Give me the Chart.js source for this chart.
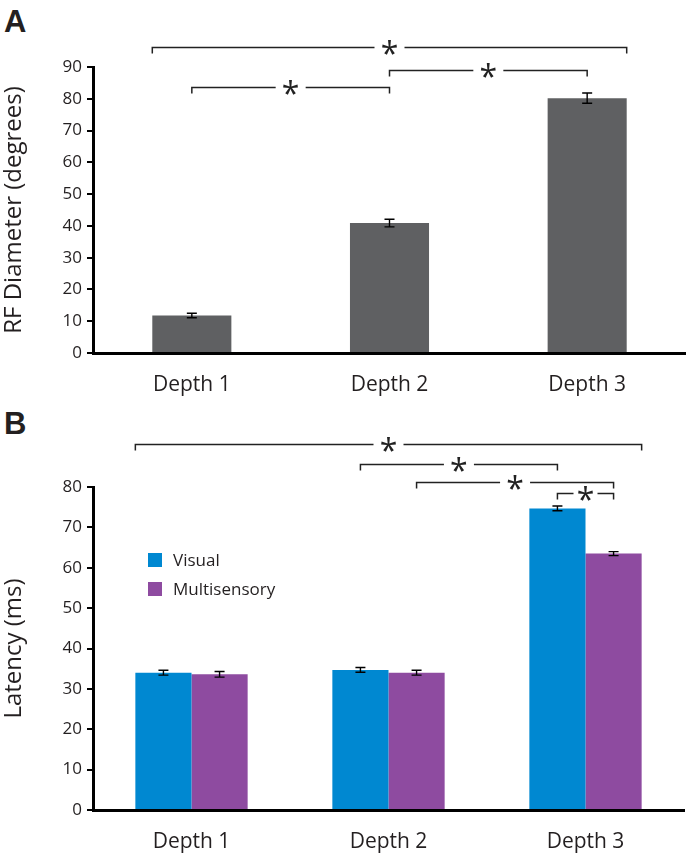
<!DOCTYPE html>
<html>
<head>
<meta charset="utf-8">
<script src="https://cdn.jsdelivr.net/npm/chart.js@4.4.1/dist/chart.umd.min.js"></script>
<style>
  html, body { margin:0; padding:0; background:#fff; }
  #wrap { position:relative; width:686px; height:853px; overflow:hidden; font-family:"Open Sans", sans-serif; color:#231f20; }
  .panel { position:absolute; left:0; width:686px; }
  .letter { position:absolute; font-family:"Liberation Sans", Arial, sans-serif; font-weight:bold; font-size:31px; color:#231f20; line-height:1; }
  .legend { position:absolute; left:148px; font-size:17px; color:#231f20; }
  .legend div { display:flex; align-items:center; height:29px; }
  .legend span.sw { display:inline-block; width:14px; height:14px; margin-right:11px; }
</style>
</head>
<body>
<div id="wrap">
  <div class="letter" style="left:4px; top:6px;">A</div>
  <div class="panel" style="top:0; height:400px;"><canvas id="chartA" width="686" height="400"></canvas></div>
  <div class="letter" style="left:4px; top:408px;">B</div>
  <div class="panel" style="top:400px; height:453px;"><canvas id="chartB" width="686" height="453"></canvas></div>
  <div class="legend" style="top:545px;">
    <div><span class="sw" style="background:#0088d1"></span>Visual</div>
    <div><span class="sw" style="background:#8e4ba0"></span>Multisensory</div>
  </div>
</div>
<script>
// ---- data ----
const categories = ['Depth 1', 'Depth 2', 'Depth 3'];
const rfDiameter = [11.8, 40.9, 80.2];
const rfDiameterErr = [0.7, 1.2, 1.6];
const latencyVisual = [34.0, 34.7, 74.7];
const latencyVisualErr = [0.6, 0.6, 0.6];
const latencyMulti = [33.6, 34.0, 63.5];
const latencyMultiErr = [0.7, 0.6, 0.5];
const seriesNames = ['Visual', 'Multisensory'];
const rfAxisMax = 90;
const latencyAxisMax = 80;

const INK = '#231f20';
const FONT = '"Open Sans", sans-serif';

// error bar plugin
const errorBars = {
  id: 'errorBars',
  afterDatasetsDraw(chart, args, opts) {
    const ctx = chart.ctx, y = chart.scales.y;
    ctx.save();
    ctx.strokeStyle = '#000';
    ctx.lineWidth = 1.4;
    chart.data.datasets.forEach((ds, di) => {
      const meta = chart.getDatasetMeta(di);
      meta.data.forEach((bar, i) => {
        const v = ds.data[i], e = ds.errors[i];
        const yt = y.getPixelForValue(v + e), yb = y.getPixelForValue(v - e);
        const cw = 5;
        ctx.beginPath();
        ctx.moveTo(bar.x, yt); ctx.lineTo(bar.x, yb);
        ctx.moveTo(bar.x - cw, yt); ctx.lineTo(bar.x + cw, yt);
        ctx.moveTo(bar.x - cw, yb); ctx.lineTo(bar.x + cw, yb);
        ctx.stroke();
      });
    });
    ctx.restore();
  }
};

// significance brackets plugin
const brackets = {
  id: 'brackets',
  afterDraw(chart, args, opts) {
    const ctx = chart.ctx, y = chart.scales.y;
    const ax = (a) => {
      const bar = chart.getDatasetMeta(a.ds).data[a.i];
      if (a.side === 'left') return bar.x - bar.width / 2;
      if (a.side === 'right') return bar.x + bar.width / 2;
      return bar.x;
    };
    ctx.save();
    ctx.strokeStyle = '#222';
    ctx.fillStyle = '#222';
    ctx.lineWidth = 1.5;
    (opts.items || []).forEach(b => {
      const x1 = ax(b.from), x2 = ax(b.to);
      const py = Math.round(y.getPixelForValue(b.level)) + 0.5;
      const mid = (x1 + x2) / 2;
      const gap = b.gap || 15;
      ctx.beginPath();
      ctx.moveTo(x1, py + 6); ctx.lineTo(x1, py); ctx.lineTo(mid - gap, py);
      ctx.moveTo(mid + gap, py); ctx.lineTo(x2, py); ctx.lineTo(x2, py + 6);
      ctx.stroke();
      ctx.font = '32px ' + FONT;
      ctx.textAlign = 'center';
      ctx.textBaseline = 'middle';
      ctx.fillText('*', mid, py + 8);
    });
    ctx.restore();
  }
};

function makeScales(maxV, title, yWidth, xHeight) {
  return {
    x: {
      grid: { display: false },
      border: { display: true, color: '#000', width: 3 },
      ticks: { color: INK, font: { family: FONT, size: 21 }, padding: 11 },
      afterFit(s) { s.height = xHeight; }
    },
    y: {
      min: 0, max: maxV,
      grid: { display: true, drawOnChartArea: false, drawTicks: true, tickLength: 6, color: '#000', lineWidth: 2 },
      border: { display: true, color: '#000', width: 3 },
      ticks: { stepSize: 10, color: INK, font: { family: FONT, size: 17 }, padding: 5 },
      title: { display: true, text: title, color: INK, font: { family: FONT, size: 24 }, padding: { top: 0, bottom: 4 } },
      afterFit(s) { s.width = yWidth; }
    }
  };
}

new Chart(document.getElementById('chartA'), {
  type: 'bar',
  data: {
    labels: categories,
    datasets: [{
      data: rfDiameter, errors: rfDiameterErr,
      backgroundColor: '#5f6062',
      categoryPercentage: 0.4, barPercentage: 1.0
    }]
  },
  options: {
    responsive: false, animation: false,
    layout: { padding: { top: 67, right: 0, left: 0, bottom: 0 } },
    plugins: {
      legend: { display: false }, tooltip: { enabled: false },
      brackets: { items: [
        { from: { ds: 0, i: 0, side: 'left' }, to: { ds: 0, i: 2, side: 'right' }, level: 96.2 },
        { from: { ds: 0, i: 1 }, to: { ds: 0, i: 2 }, level: 89.0 },
        { from: { ds: 0, i: 0 }, to: { ds: 0, i: 1 }, level: 83.6 }
      ] }
    },
    scales: makeScales(rfAxisMax, 'RF Diameter (degrees)', 93, 47)
  },
  plugins: [errorBars, brackets]
});

new Chart(document.getElementById('chartB'), {
  type: 'bar',
  data: {
    labels: categories,
    datasets: [
      { label: seriesNames[0], data: latencyVisual, errors: latencyVisualErr, backgroundColor: '#0088d1',
        categoryPercentage: 0.57, barPercentage: 1.0 },
      { label: seriesNames[1], data: latencyMulti, errors: latencyMultiErr, backgroundColor: '#8e4ba0',
        categoryPercentage: 0.57, barPercentage: 1.0 }
    ]
  },
  options: {
    responsive: false, animation: false,
    layout: { padding: { top: 87, right: 2, left: 0, bottom: 0 } },
    plugins: {
      legend: { display: false }, tooltip: { enabled: false },
      brackets: { items: [
        { from: { ds: 0, i: 0, side: 'left' }, to: { ds: 1, i: 2, side: 'right' }, level: 90.6 },
        { from: { ds: 0, i: 1 }, to: { ds: 0, i: 2 }, level: 85.8 },
        { from: { ds: 1, i: 1 }, to: { ds: 1, i: 2 }, level: 81.2 },
        { from: { ds: 0, i: 2 }, to: { ds: 1, i: 2 }, level: 78.5, gap: 12 }
      ] }
    },
    scales: makeScales(latencyAxisMax, 'Latency (ms)', 93, 43)
  },
  plugins: [errorBars, brackets]
});
</script>
</body>
</html>
